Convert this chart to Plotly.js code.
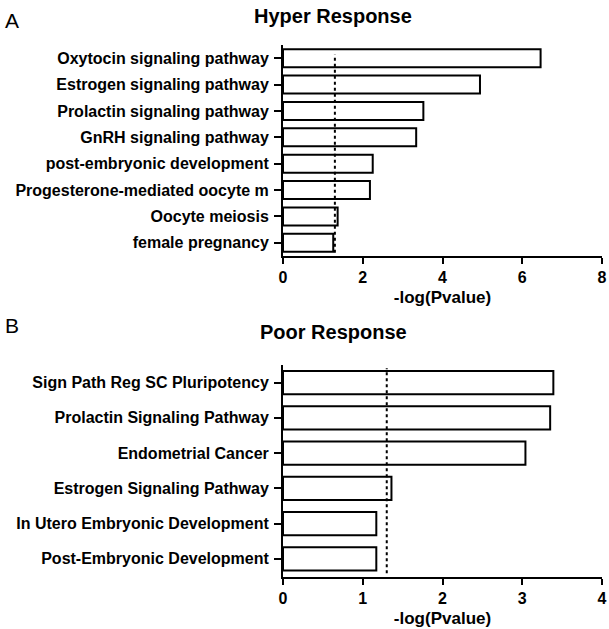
<!DOCTYPE html>
<html>
<head>
<meta charset="utf-8">
<script src="https://cdn.plot.ly/plotly-3.0.1.min.js"></script>
<style>html,body{margin:0;padding:0;background:#fff;}#chart{width:609px;height:629px;}</style>
</head>
<body>
<div id="chart"></div>
<script>
// Panel A data
var hyperCategories = [
  "Oxytocin signaling pathway",
  "Estrogen signaling pathway",
  "Prolactin signaling pathway",
  "GnRH signaling pathway",
  "post-embryonic development",
  "Progesterone-mediated oocyte m",
  "Oocyte meiosis",
  "female pregnancy"
];
var hyperValues = [6.46, 4.94, 3.52, 3.34, 2.25, 2.18, 1.37, 1.26];

// Panel B data
var poorCategories = [
  "Sign Path Reg SC Pluripotency",
  "Prolactin Signaling Pathway",
  "Endometrial Cancer",
  "Estrogen Signaling Pathway",
  "In Utero Embryonic Development",
  "Post-Embryonic Development"
];
var poorValues = [3.39, 3.35, 3.04, 1.36, 1.17, 1.17];

var hyperTicks = [0, 2, 4, 6, 8];
var poorTicks = [0, 1, 2, 3, 4];
var threshold = [1.301];

var FONT = "Liberation Sans, Arial, Helvetica, sans-serif";

var traces = [
  {
    type: "bar", orientation: "h",
    x: hyperValues, y: hyperCategories,
    xaxis: "x", yaxis: "y",
    width: 0.68,
    marker: {color: "#ffffff", line: {color: "#000000", width: 2}},
    hoverinfo: "x+y"
  },
  {
    type: "bar", orientation: "h",
    x: poorValues, y: poorCategories,
    xaxis: "x2", yaxis: "y2",
    width: 0.66,
    marker: {color: "#ffffff", line: {color: "#000000", width: 2}},
    hoverinfo: "x+y"
  }
];

var tickFont = {family: FONT, size: 16, color: "#000", weight: "bold"};
var xDomain = [283/609, 602/609];

function xAxis(ticks, anchor) {
  return {
    domain: xDomain,
    anchor: anchor,
    range: [ticks[0], ticks[ticks.length - 1]],
    tickvals: ticks,
    ticktext: ticks.map(String),
    showgrid: false, zeroline: false,
    showline: true, linecolor: "#000", linewidth: 2,
    ticks: "outside", ticklen: 6, tickwidth: 2, tickcolor: "#000",
    tickfont: tickFont,
    title: {text: "-log(Pvalue)", font: {family: FONT, size: 17, color: "#000", weight: "bold"}, standoff: 6},
    fixedrange: true
  };
}
function yAxis(cats, domain, anchor) {
  return {
    domain: domain,
    anchor: anchor,
    type: "category",
    categoryorder: "array",
    categoryarray: cats,
    range: [cats.length - 0.5, -0.5],
    showgrid: false, zeroline: false,
    showline: true, linecolor: "#000", linewidth: 2,
    ticks: "outside", ticklen: 7, tickwidth: 2, tickcolor: "#000",
    tickfont: tickFont,
    ticklabelstandoff: 2,
    fixedrange: true
  };
}

var layout = {
  width: 609, height: 629,
  margin: {l: 0, r: 0, t: 0, b: 0},
  paper_bgcolor: "#fff", plot_bgcolor: "#fff",
  showlegend: false,
  bargap: 0.3,
  xaxis: xAxis(hyperTicks, "y"),
  yaxis: yAxis(hyperCategories, [1 - 256/629, 1 - 45/629], "x"),
  xaxis2: xAxis(poorTicks, "y2"),
  yaxis2: yAxis(poorCategories, [1 - 576.5/629, 1 - 365/629], "x2"),
  shapes: [
    {type: "line", xref: "x", yref: "y domain", x0: threshold[0], x1: threshold[0], y0: 0.015, y1: 0.955,
     line: {color: "#000", width: 2, dash: "dot"}},
    {type: "line", xref: "x2", yref: "y2 domain", x0: threshold[0], x1: threshold[0], y0: 0.015, y1: 0.985,
     line: {color: "#000", width: 2, dash: "dot"}}
  ],
  annotations: [
    {text: "A", xref: "paper", yref: "paper", x: 12/609, y: 1 - 21/629, xanchor: "center", yanchor: "middle",
     showarrow: false, font: {family: FONT, size: 21, color: "#000"}},
    {text: "B", xref: "paper", yref: "paper", x: 12/609, y: 1 - 325/629, xanchor: "center", yanchor: "middle",
     showarrow: false, font: {family: FONT, size: 21, color: "#000"}},
    {text: "Hyper Response", xref: "paper", yref: "paper", x: 333/609, y: 1 - 16/629, xanchor: "center", yanchor: "middle",
     showarrow: false, font: {family: FONT, size: 20, color: "#000", weight: "bold"}},
    {text: "Poor Response", xref: "paper", yref: "paper", x: 333/609, y: 1 - 332/629, xanchor: "center", yanchor: "middle",
     showarrow: false, font: {family: FONT, size: 20, color: "#000", weight: "bold"}}
  ]
};

Plotly.newPlot("chart", traces, layout, {displayModeBar: false, staticPlot: true});
</script>
</body>
</html>
